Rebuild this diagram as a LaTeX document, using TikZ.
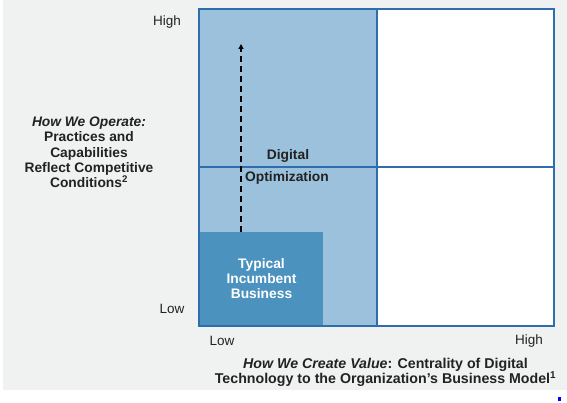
\documentclass[tikz,border=0pt]{standalone}
\usepackage{fontspec}
\setmainfont{Liberation Sans}
\usetikzlibrary{arrows.meta}
\definecolor{bggray}{HTML}{F0F1F1}
\definecolor{lineblue}{HTML}{2E6EAE}
\definecolor{lightblue}{HTML}{9BC1DC}
\definecolor{darkblue}{HTML}{4B92BF}
\definecolor{txt}{HTML}{222222}
\begin{document}
\begin{tikzpicture}[x=1pt,y=-1pt,
  lbl/.style={font=\fontsize{13.5}{15}\selectfont, text=txt, inner sep=0pt},
  bold/.style={font=\fontsize{13.8}{15.3}\selectfont\bfseries, text=txt, inner sep=0pt, align=center},
  wbold/.style={bold, text=white},
  frame/.style={draw=lineblue, line width=1.3pt}]
\useasboundingbox (0,0) rectangle (567,403);
\fill[bggray] (3,0) rectangle (567,390);
% quadrants
\fill[white] (199,9) rectangle (554,326);
\fill[lightblue] (199,9) rectangle (377,326);
\fill[darkblue] (199,232) rectangle (323,326);
\draw[frame] (199,9) rectangle (554,326);
\draw[frame] (377,9) -- (377,326);
\draw[frame] (199,167) -- (554,167);
% arrow
\coordinate (astart) at (241,232);
\coordinate (aend) at (241,44);
\draw[dashed, dash pattern=on 6pt off 4pt, line width=1.5pt, -{Triangle[length=5pt,width=5pt]}] (astart) -- (aend);
% labels
\node[bold] (dig) at (288,156) {Digital};
\node[bold, anchor=west] (opt) at (245,178) {Optimization};
\node[wbold] (tib) at (261.5,278.5) {Typical\\Incumbent\\Business};
\node[lbl] (yhigh) at (167,22) {High};
\node[lbl] (ylow) at (172,309) {Low};
\node[lbl] (xlow) at (222,341) {Low};
\node[lbl] (xhigh) at (529,341) {High};
\node[bold] (ylab) at (89,152.5) {\textit{How We Operate:}\\Practices and\\Capabilities\\Reflect Competitive\\Conditions\textsuperscript{2}};
\node[bold, font=\fontsize{14.2}{15.3}\selectfont\bfseries] (xlab) at (385.5,372.5) {\textit{How We Create Value}: Centrality of Digital\\Technology to the Organization's Business Model\textsuperscript{1}};
\fill[blue] (558,397) rectangle (560.5,401);
\end{tikzpicture}
\end{document}
